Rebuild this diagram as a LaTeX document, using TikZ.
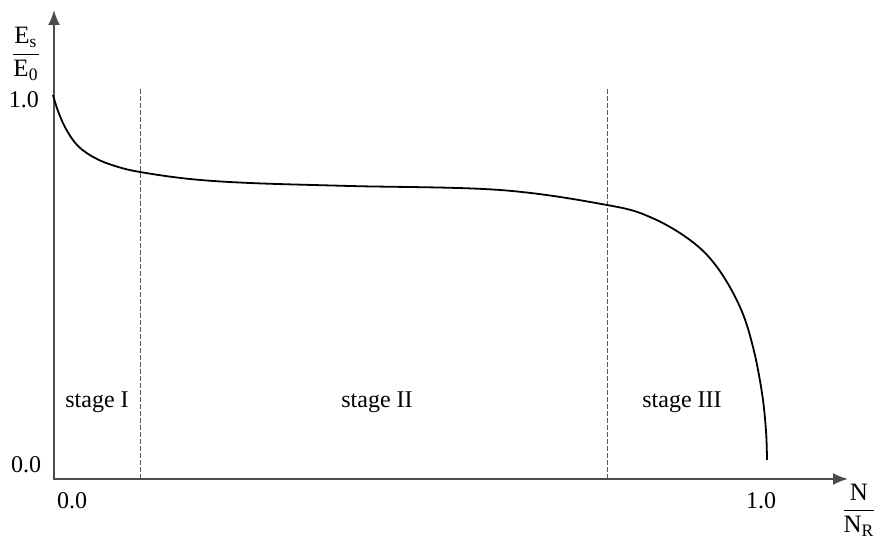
\documentclass[tikz,border=0pt]{standalone}
\usepackage{amsmath}
\usepackage{fontspec}
\setmainfont{Liberation Serif}
\usetikzlibrary{arrows.meta}

\tikzset{
  axis/.style={draw=black!70, line width=1pt, {Latex[length=7.5pt,width=6pt]}-{Latex[length=7.5pt,width=6pt]}},
  stageline/.style={draw=black!65, line width=0.5pt, dash pattern=on 2.5pt off 1pt},
  lifecurve/.style={draw=black, line width=0.9pt},
  lbl/.style={font=\fontsize{12}{14}\selectfont, inner sep=0pt},
  fraclbl/.style={font=\fontsize{12.5}{15}\selectfont, inner sep=0pt},
}

\begin{document}
\begin{tikzpicture}[x=0.5pt,y=0.5pt]
    \useasboundingbox (0,0) rectangle (879,541);
    % axes
    \coordinate (O) at (54,62);
    \coordinate (ytop) at (54,531);
    \coordinate (xend) at (848,62);
    \draw[axis] (ytop) -- (O) -- (xend);
    % stage borders
    \coordinate (b1top) at (140,452);
    \coordinate (b1bot) at (140,62);
    \coordinate (b2top) at (607,452);
    \coordinate (b2bot) at (607,62);
    \draw[stageline] (b1top) -- (b1bot);
    \draw[stageline] (b2top) -- (b2bot);
    % stiffness curve
    \draw[lifecurve] plot[smooth, tension=0.6] coordinates {
        (53,446) (58,430) (66,412) (78,395) (95,383) (115,375) (140,369)
        (190,362) (250,358) (350,355) (500,351) (607,336) (650,324)
        (690,301) (717,274) (740,234) (753,194) (762,148) (766,110) (767,81)};
    % labels
    \node[fraclbl] (ylab) at (26,487) {$\dfrac{\text{E}_{\text{s}}}{\text{E}_{\text{0}}}$};
    \node[fraclbl] (xlab) at (859,31) {$\dfrac{\text{N}}{\text{N}_{\text{R}}}$};
    \node[lbl] (yone) at (24,441) {1.0};
    \node[lbl] (yzero) at (26,76) {0.0};
    \node[lbl] (xzero) at (72,40) {0.0};
    \node[lbl] (xone) at (761,40) {1.0};
    \node[lbl] (stI) at (97,139) {stage I};
    \node[lbl] (stII) at (377,139) {stage II};
    \node[lbl] (stIII) at (682,139) {stage III};
\end{tikzpicture}
\end{document}
